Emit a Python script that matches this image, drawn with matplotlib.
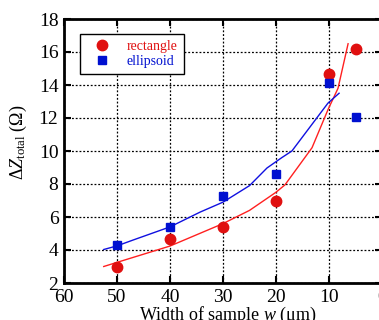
import matplotlib
matplotlib.use("Agg")
import matplotlib.pyplot as plt

plt.rcParams['font.family'] = ['Liberation Serif', 'DejaVu Serif']
plt.rcParams['mathtext.fontset'] = 'custom'
plt.rcParams['mathtext.rm'] = 'Liberation Serif'
plt.rcParams['mathtext.it'] = 'Liberation Serif:italic'

# measured points
w_pts = [50, 40, 30, 20, 10, 5]
rect_pts = [3.0, 4.65, 5.4, 7.0, 14.65, 16.2]
ell_pts = [4.3, 5.4, 7.3, 8.6, 14.1, 12.05]

# simulated curves
w_rect_line = [52.5, 50, 40, 30, 25, 20, 18.3, 14.9, 13.2, 10.2, 8.3, 6.4]
rect_line = [3.0, 3.25, 4.24, 5.6, 6.4, 7.5, 7.95, 9.45, 10.2, 12.5, 13.8, 16.5]
w_ell_line = [52.5, 50, 47, 40, 34.3, 30, 25, 21.7, 18.9, 17, 10.2, 8.1]
ell_line = [4.03, 4.25, 4.6, 5.4, 6.3, 6.9, 7.9, 8.97, 9.6, 10.0, 12.9, 13.5]

fig = plt.figure(figsize=(3.79, 3.2), dpi=100)
ax = fig.add_axes([64 / 379, 1 - 283 / 320, 318 / 379, 264 / 320])

ax.plot(w_rect_line, rect_line, color='#ff2020', lw=1)
ax.plot(w_ell_line, ell_line, color='#1010e0', lw=1)
ax.plot(w_pts, rect_pts, 'o', color='#e01010', ms=7.5, ls='none', label='rectangle')
ax.plot(w_pts, ell_pts, 's', color='#0010d0', ms=6, ls='none', label='ellipsoid')

ax.set_xlim(60, 0)
ax.set_ylim(2, 18)
ax.set_xticks([60, 50, 40, 30, 20, 10, 0])
ax.set_yticks([2, 4, 6, 8, 10, 12, 14, 16, 18])
ax.grid(True, color='black', ls=(0, (1.5, 1.5)), lw=0.9)
ax.tick_params(direction='in', top=True, right=True, length=5, width=1.5,
               labelsize=14, pad=4)
for s in ax.spines.values():
    s.set_linewidth(2)

ax.set_xlabel(r'Width of sample $\mathit{w}$ ($\mathrm{\mu}$m)', fontsize=13)
ax.xaxis.set_label_coords(0.516, -0.083)
ax.set_ylabel(r'$\Delta \mathit{Z}_{\mathrm{total}}$ ($\Omega$)', fontsize=13)
ax.yaxis.set_label_coords(-0.11, 0.534)

leg = ax.legend(loc='upper left', bbox_to_anchor=(16 / 318, 1 - 15 / 264),
                borderaxespad=0, fontsize=10, frameon=True, fancybox=False,
                edgecolor='black', framealpha=1, handletextpad=0.7,
                borderpad=0.45, labelspacing=0.1, handlelength=2.2)
leg.get_frame().set_linewidth(1)
for txt, c in zip(leg.get_texts(), ['#e01010', '#0010d0']):
    txt.set_color(c)

fig.savefig('out.png', dpi=100)
